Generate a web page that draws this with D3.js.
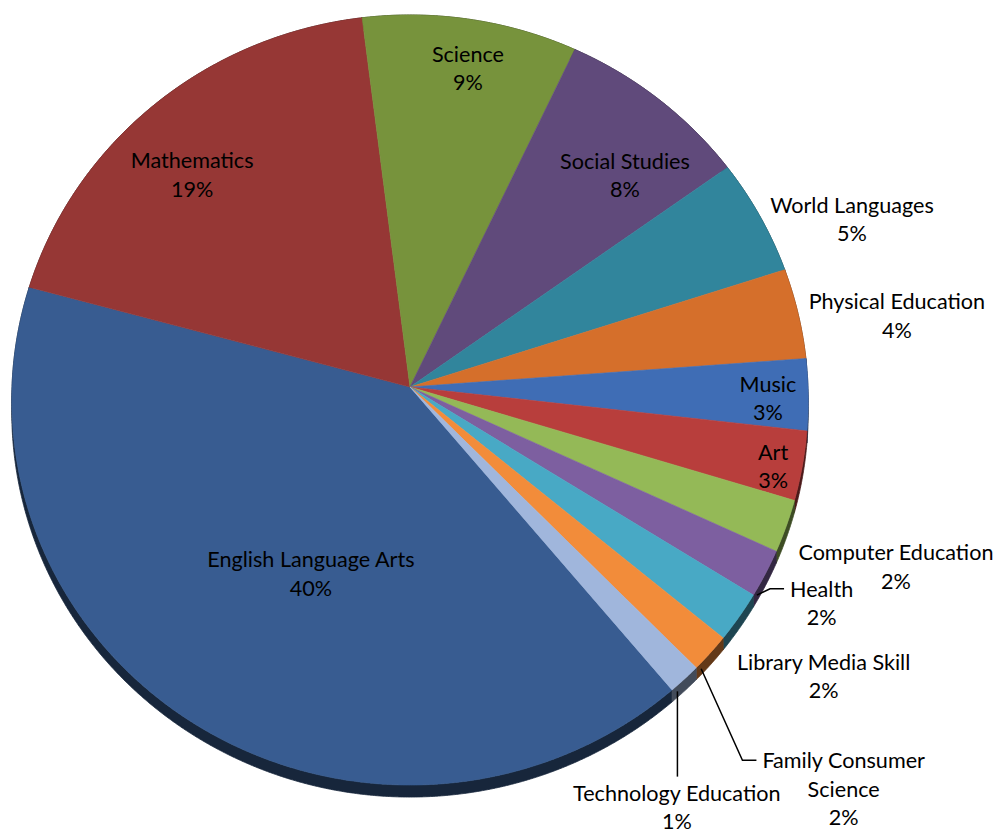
<!DOCTYPE html>
<html>
<head>
<meta charset="utf-8">
<script src="https://cdn.jsdelivr.net/npm/d3@7/dist/d3.min.js"></script>
<style>
  body { margin: 0; background: #fff; }
  svg { display: block; }
  text { font-family: Lato, "Open Sans", sans-serif; font-size: 21.6px; fill: #000; }
</style>
</head>
<body>
<svg id="chart" width="997" height="834"></svg>
<script>
// subjects in series order (Excel draws them clockwise)
var subjects = ["English Language Arts", "Mathematics", "Science", "Social Studies",
    "World Languages", "Physical Education", "Music", "Art", "Computer Education",
    "Health", "Library Media Skill", "Family Consumer Science", "Technology Education"];
var shares = [40.3, 18.8, 9.0, 8.1, 4.9, 3.8, 3.0, 2.9, 2.2, 2.0, 2.1, 1.6, 1.3];
var colors = ["#385c91", "#963735", "#77933c", "#604a7b", "#31859c", "#d56f2b",
    "#3f6db5", "#b83e3c", "#94b957", "#7d5fa0", "#48a9c5", "#f28c3a", "#a0b6dc"];

// label placement: radius (1 = rim), angle nudge in degrees, leader style
var labelCfg = {
    "English Language Arts": {r: 0.537, da: -5.5},
    "Mathematics": {r: 0.792, da: -3.8},
    "Science": {r: 0.866, da: 0.9},
    "Social Studies": {r: 0.786, da: 4.6},
    "World Languages": {r: 1.211, da: 5.3},
    "Physical Education": {r: 1.245, da: 2.5},
    "Music": {r: 0.899, da: 0.7},
    "Art": {r: 0.929, da: 1.0},
    "Computer Education": {r: 1.287, da: 0},
    "Health": {r: 1.155, da: 0, leader: "side"},
    "Library Media Skill": {r: 1.251, da: 0},
    "Family Consumer Science": {r: 1.458, da: 1.25, leader: "side"},
    "Technology Education": {r: 1.236, da: 10.7, leader: "below"}
};
var wrap = {"Family Consumer Science": ["Family Consumer", "Science"]};

var svg = d3.select("#chart");

// tilted pie: slight perspective so the near edge is larger
var cx = 410, cy = 387, rx = 398, ry = 384.6, persp = 0.0338, depth = 12, lineH = 28.5;
var deg = Math.PI / 180;

function project(angle, r) {
    var u = r * Math.sin(angle), v = -r * Math.cos(angle);
    var s = 1 / (1 - persp * v);
    return [cx + rx * u * s, cy + ry * v * s];
}

function rim(a0, a1, dy) {
    var n = Math.max(2, Math.ceil(Math.abs(a1 - a0) / 0.004)), pts = [];
    for (var i = 0; i <= n; i++) {
        var p = project(a0 + (a1 - a0) * i / n, 1);
        pts.push([p[0], p[1] + dy]);
    }
    return pts;
}

var line = d3.line().curve(d3.curveLinearClosed);

var pie = d3.pie().sort(null).value(function (d) { return d; })
    .startAngle(140.1 * deg).endAngle(140.1 * deg + 2 * Math.PI);
var arcs = pie(shares);
var total = d3.sum(shares);
var pct = d3.format(".0%");

// side wall (only the front part stays visible)
svg.append("g").selectAll("path")
    .data(arcs)
    .enter()
    .append("path")
    .attr("d", function (d) {
        var top = rim(d.startAngle, d.endAngle, 0);
        var bottom = rim(d.endAngle, d.startAngle, depth);
        return line(top.concat(bottom));
    })
    .attr("fill", function (d, i) { return d3.color(colors[i]).darker(2.5); })
    .attr("stroke", function (d, i) { return d3.color(colors[i]).darker(2.5); })
    .attr("stroke-width", 0.8);

// top face
svg.append("g").selectAll("path")
    .data(arcs)
    .enter()
    .append("path")
    .attr("d", function (d) {
        return line([project(0, 0)].concat(rim(d.startAngle, d.endAngle, 0)));
    })
    .attr("fill", function (d, i) { return colors[i]; })
    .attr("stroke", function (d, i) { return colors[i]; })
    .attr("stroke-width", 0.6);

// labels
var labels = svg.append("g");
arcs.forEach(function (d, i) {
    var name = subjects[i], cfg = labelCfg[name];
    var mid = (d.startAngle + d.endAngle) / 2 + cfg.da * deg;
    var pos = project(mid, cfg.r);
    var lines = (wrap[name] || [name]).concat([pct(d.value / total)]);
    var top = pos[1] - (lines.length - 1) * lineH / 2;
    var t = labels.append("text").attr("text-anchor", "middle");
    lines.forEach(function (s, j) {
        t.append("tspan")
            .attr("x", pos[0])
            .attr("y", top + j * lineH)
            .attr("dy", "0.36em")
            .text(s);
    });

    if (cfg.leader) {
        var p0 = project(d.endAngle - 1 * deg, 1);
        p0[1] += 6;
        var bb = t.node().getBBox(), pts;
        if (cfg.leader == "below") {
            pts = [p0, [p0[0], bb.y - 3]];
        } else {
            pts = [p0, [bb.x - 20, top], [bb.x - 6, top]];
        }
        labels.append("path")
            .attr("d", d3.line()(pts))
            .attr("fill", "none")
            .attr("stroke", "#000")
            .attr("stroke-width", 1.5);
    }
});
</script>
</body>
</html>
